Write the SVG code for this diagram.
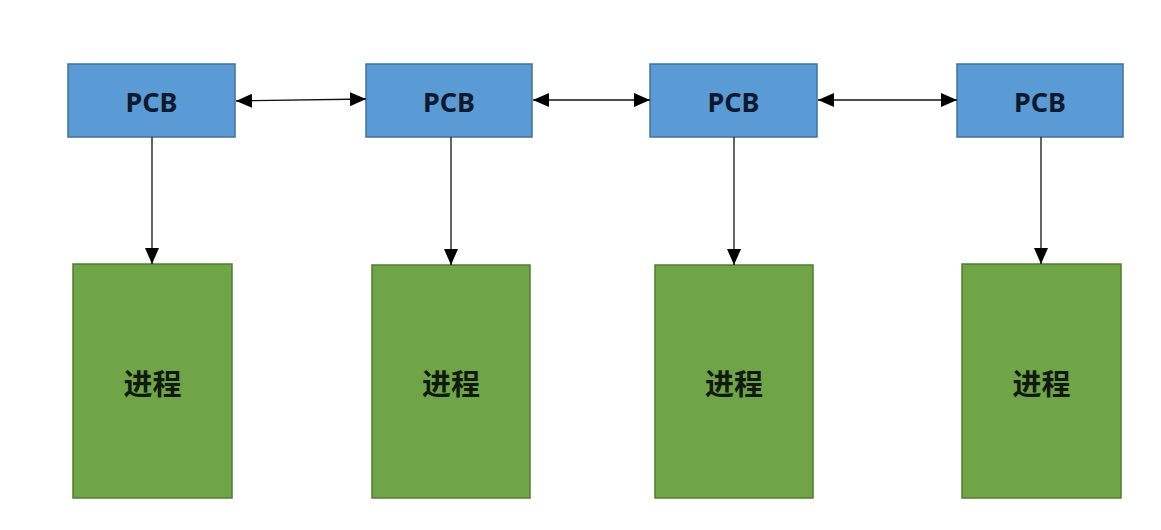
<svg xmlns="http://www.w3.org/2000/svg" width="1161" height="530" viewBox="0 0 1161 530">
<style>
.pcb{fill:#5b9bd5;stroke:#41719c;stroke-width:1.5}
.proc{fill:#6fa447;stroke:#507e32;stroke-width:1.5}
.t1{font-family:"Noto Sans","Liberation Sans",sans-serif;font-weight:bold;font-size:27px;fill:#0d1a2e;text-anchor:middle;dominant-baseline:central}
.t2{font-family:"Noto Sans CJK SC",sans-serif;font-weight:bold;font-size:29px;fill:#101a10;text-anchor:middle;dominant-baseline:central}
.ln{stroke:#111;stroke-width:1.3;fill:none}
</style>
<defs>
<marker id="ah" viewBox="0 0 16 14" refX="16" refY="7" markerWidth="16" markerHeight="14" markerUnits="userSpaceOnUse" orient="auto-start-reverse">
<path d="M0,0 L16,7 L0,14 z" fill="#000"/>
</marker>
</defs>
<rect width="1161" height="530" fill="#ffffff"/>
<g id="pcb1"><rect class="pcb" x="68" y="64" width="167" height="73"/><text class="t1" x="151.5" y="101">PCB</text></g>
<g id="pcb2"><rect class="pcb" x="366" y="64" width="166" height="73"/><text class="t1" x="449" y="101">PCB</text></g>
<g id="pcb3"><rect class="pcb" x="650" y="64" width="167" height="73"/><text class="t1" x="733.5" y="101">PCB</text></g>
<g id="pcb4"><rect class="pcb" x="957" y="64" width="166" height="73"/><text class="t1" x="1040" y="101">PCB</text></g>
<g id="proc1"><rect class="proc" x="73" y="264" width="159" height="234"/><text class="t2" x="152.5" y="382">进程</text></g>
<g id="proc2"><rect class="proc" x="372" y="265" width="158" height="233"/><text class="t2" x="451" y="382">进程</text></g>
<g id="proc3"><rect class="proc" x="655" y="265" width="158" height="233"/><text class="t2" x="734" y="382">进程</text></g>
<g id="proc4"><rect class="proc" x="962" y="264" width="159" height="234"/><text class="t2" x="1041.5" y="382">进程</text></g>
<g id="connectors">
<line class="ln" x1="236" y1="101" x2="366" y2="99" marker-start="url(#ah)" marker-end="url(#ah)"/>
<line class="ln" x1="533" y1="100" x2="650" y2="100" marker-start="url(#ah)" marker-end="url(#ah)"/>
<line class="ln" x1="818" y1="100" x2="957" y2="100" marker-start="url(#ah)" marker-end="url(#ah)"/>
<line class="ln" x1="152" y1="137" x2="152" y2="264" marker-end="url(#ah)"/>
<line class="ln" x1="451" y1="137" x2="451" y2="265" marker-end="url(#ah)"/>
<line class="ln" x1="734" y1="137" x2="734" y2="265" marker-end="url(#ah)"/>
<line class="ln" x1="1041" y1="137" x2="1041" y2="264" marker-end="url(#ah)"/>
</g>
</svg>
